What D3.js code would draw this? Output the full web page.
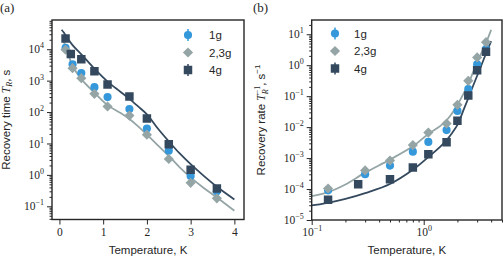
<!DOCTYPE html>
<html>
<head>
<meta charset="utf-8">
<script src="https://cdn.jsdelivr.net/npm/d3@7"></script>
<style>
	body { margin: 0; background: #fff; }
	svg { display: block; }
</style>
</head>
<body>
<svg id="chart" width="503" height="258"></svg>
<script>
// measured temperatures (K)
var temps = [0.14, 0.3, 0.5, 0.8, 1.1, 1.6, 2.0, 2.5, 3.0, 3.6];
var temps4g = [0.14, 0.26, 0.5, 0.8, 1.1, 1.6, 2.0, 2.5, 3.0, 3.6];

// recovery time T_R (s)
var tr1g = [1.1e4, 3.3e3, 1.75e3, 620, 300, 125, 30, 5.9, 0.93, 0.3];
var tr23g = [9.6e3, 2.5e3, 1.2e3, 380, 150, 77, 19, 3.2, 0.56, 0.18];
var tr4g = [2.2e4, 7.0e3, 4.8e3, 2.0e3, 750, 310, 62, 9.5, 1.45, 0.37];

// fit curves
var fitTempsDark = [0.05, 0.1, 0.15, 0.2, 0.3, 0.5, 0.8, 1.1, 1.4, 1.6, 1.8, 2.0, 2.25, 2.5, 2.75, 3.0, 3.3, 3.6, 4.0];
var fitDark = [4.17e4, 3.39e4, 2.63e4, 2.09e4, 1.35e4, 6.9e3, 2.4e3, 933, 437, 263, 151, 85, 30, 11.7, 4.8, 2.19, 0.93, 0.42, 0.166];
var fitTempsGray = [0.1, 0.14, 0.2, 0.3, 0.5, 0.8, 1.1, 1.4, 1.6, 1.8, 2.0, 2.25, 2.5, 2.75, 3.0, 3.3, 3.6, 4.0];
var fitGray = [1.7e4, 1.26e4, 7.1e3, 2.95e3, 1.12e3, 417, 166, 93, 60, 35, 19, 8.7, 4.0, 1.74, 0.83, 0.38, 0.19, 0.072];

var labels = ['1g', '2,3g', '4g'];
var colors = ['#3498db', '#95a5a6', '#34495e'];
var shapes = ['circle', 'diamond', 'square'];

var series = [
	{ name: labels[0], t: temps, v: tr1g, color: colors[0], shape: shapes[0], err: true },
	{ name: labels[1], t: temps, v: tr23g, color: colors[1], shape: shapes[1], err: false },
	{ name: labels[2], t: temps4g, v: tr4g, color: colors[2], shape: shapes[2], err: true }
];
var fits = [
	{ t: fitTempsGray, v: fitGray, color: '#95a5a6' },
	{ t: fitTempsDark, v: fitDark, color: '#34495e' }
];

var ink = '#262626';
var serif = '"Liberation Serif", "DejaVu Serif", serif';
var sans = '"Liberation Sans", "DejaVu Sans", sans-serif';

var svg = d3.select('#chart');

function symbolPath(shape) {
	if (shape === 'circle') return d3.symbol(d3.symbolCircle, 52)();
	if (shape === 'square') return d3.symbol(d3.symbolSquare, 72)();
	return d3.symbol(d3.symbolSquare, 52)();
}

function powLabel(sel) {
	sel.each(function(d) {
		var e = Math.round(Math.log10(d));
		var t = d3.select(this).text('').attr('font-family', serif);
		t.append('tspan').text('10');
		t.append('tspan').attr('dy', -5).attr('font-size', 8).text(String(e).replace('-', '\u2212'));
	});
}

function minorTicks(domain) {
	var out = [];
	var lo = Math.floor(Math.log10(domain[0])), hi = Math.ceil(Math.log10(domain[1]));
	for (var k = lo; k <= hi; k++) {
		for (var m = 2; m <= 9; m++) {
			var v = m * Math.pow(10, k);
			if (v >= domain[0] && v <= domain[1]) out.push(v);
		}
	}
	return out;
}

function majorTicks(domain) {
	var out = [];
	for (var k = Math.ceil(Math.log10(domain[0]) - 1e-9); k <= Math.floor(Math.log10(domain[1]) + 1e-9); k++) out.push(Math.pow(10, k));
	return out;
}

function drawPanel(p) {
	var g = svg.append('g');
	var id = 'clip' + p.key;
	svg.append('clipPath').attr('id', id).append('rect')
		.attr('x', p.left).attr('y', p.top)
		.attr('width', p.right - p.left).attr('height', p.bottom - p.top);

	var x = p.x, y = p.y;

	// x axis
	var xa = g.append('g').attr('transform', 'translate(0,' + p.bottom + ')');
	if (p.logX) {
		xa.call(d3.axisBottom(x).tickValues(majorTicks(x.domain())).tickSize(5).tickSizeOuter(0));
		xa.selectAll('text').call(powLabel);
		g.append('g').attr('transform', 'translate(0,' + p.bottom + ')')
			.call(d3.axisBottom(x).tickValues(minorTicks(x.domain())).tickSize(2.5).tickFormat('').tickSizeOuter(0))
			.call(function(a) { a.select('.domain').remove(); });
	} else {
		xa.call(d3.axisBottom(x).tickValues([0, 1, 2, 3, 4]).tickFormat(d3.format('d')).tickSize(5).tickSizeOuter(0));
		xa.selectAll('text').attr('font-family', serif);
	}
	// y axis
	var ya = g.append('g').attr('transform', 'translate(' + p.left + ',0)');
	ya.call(d3.axisLeft(y).tickValues(majorTicks(y.domain())).tickSize(5).tickSizeOuter(0));
	ya.selectAll('text').call(powLabel);
	g.append('g').attr('transform', 'translate(' + p.left + ',0)')
		.call(d3.axisLeft(y).tickValues(minorTicks(y.domain())).tickSize(2.5).tickFormat('').tickSizeOuter(0))
		.call(function(a) { a.select('.domain').remove(); });

	g.selectAll('.tick line').attr('stroke', ink).attr('stroke-width', 1);
	g.selectAll('.domain').remove();
	g.selectAll('.tick text').attr('fill', ink).attr('font-size', 11.5);

	// fit lines
	var line = d3.line()
		.x(function(d) { return x(d[0]); })
		.y(function(d) { return y(p.val(d[1])); })
		.curve(d3.curveCatmullRom);
	var lines = g.append('g').attr('clip-path', 'url(#' + id + ')');
	fits.forEach(function(f) {
		lines.append('path')
			.datum(d3.zip(f.t, f.v))
			.attr('d', line)
			.attr('fill', 'none')
			.attr('stroke', f.color)
			.attr('stroke-width', 1.8);
	});

	// markers
	var marks = g.append('g').attr('clip-path', 'url(#' + id + ')');
	series.forEach(function(s) {
		marks.append('g').selectAll('path')
			.data(d3.zip(s.t, s.v))
			.join('path')
				.attr('d', symbolPath(s.shape))
				.attr('transform', function(d) {
					return 'translate(' + x(d[0]) + ',' + y(p.val(d[1])) + ')' + (s.shape === 'diamond' ? ' rotate(45)' : '');
				})
				.attr('fill', s.color);
	});

	// frame
	g.append('rect')
		.attr('x', p.left).attr('y', p.top)
		.attr('width', p.right - p.left).attr('height', p.bottom - p.top)
		.attr('fill', 'none').attr('stroke', ink).attr('stroke-width', 1.4);

	// legend
	var leg = g.append('g');
	series.forEach(function(s, i) {
		var ly = p.legY + i * 17.5;
		if (s.err) {
			leg.append('line').attr('x1', p.legX).attr('x2', p.legX)
				.attr('y1', ly - 6).attr('y2', ly + 6)
				.attr('stroke', s.color).attr('stroke-width', 1.5);
		}
		leg.append('path').attr('d', symbolPath(s.shape))
			.attr('transform', 'translate(' + p.legX + ',' + ly + ')' + (s.shape === 'diamond' ? ' rotate(45)' : ''))
			.attr('fill', s.color);
		leg.append('text').attr('x', p.legX + p.legGap).attr('y', ly + 4)
			.attr('font-family', sans).attr('font-size', 11.5).attr('fill', ink)
			.text(s.name);
	});

	// axis labels
	g.append('text')
		.attr('x', (p.left + p.right) / 2).attr('y', 254)
		.attr('text-anchor', 'middle')
		.attr('font-family', sans).attr('font-size', 11.5).attr('fill', ink)
		.text('Temperature, K');

	var yl = g.append('text')
		.attr('transform', 'translate(' + p.yLabelX + ',' + ((p.top + p.bottom) / 2) + ') rotate(-90)')
		.attr('text-anchor', 'middle')
		.attr('font-family', sans).attr('font-size', 11.5).attr('fill', ink);
	p.yLabel(yl);

	g.append('text').attr('x', p.tagX).attr('y', 12)
		.attr('font-family', serif).attr('font-size', 13).attr('fill', ink)
		.text(p.tag);
}

// panel (a): recovery time vs temperature
drawPanel({
	key: 'a', tag: '(a)', tagX: 0,
	left: 52, right: 244, top: 20, bottom: 219.5,
	x: d3.scaleLinear().domain([-0.17, 4.22]).range([52, 244]),
	y: d3.scaleLog().domain([Math.pow(10, -1.42), Math.pow(10, 4.93)]).range([219.5, 20]),
	logX: false,
	val: function(v) { return v; },
	legX: 188, legY: 35, legGap: 21,
	yLabelX: 10,
	yLabel: function(t) {
		t.append('tspan').text('Recovery time ');
		t.append('tspan').attr('font-family', serif).attr('font-style', 'italic').text('T');
		t.append('tspan').attr('font-family', serif).attr('font-style', 'italic').attr('font-size', 8).attr('dy', 2).text('R');
		t.append('tspan').attr('dy', -2).text(', s');
	}
});

// panel (b): recovery rate vs temperature
drawPanel({
	key: 'b', tag: '(b)', tagX: 253,
	left: 311.7, right: 502, top: 20, bottom: 220,
	x: d3.scaleLog().domain([0.1, 5]).range([311.7, 502]),
	y: d3.scaleLog().domain([1e-5, Math.pow(10, 1.46)]).range([220, 20]),
	logX: true,
	val: function(v) { return 1 / v; },
	legX: 335, legY: 33.5, legGap: 19,
	yLabelX: 265,
	yLabel: function(t) {
		t.append('tspan').text('Recovery rate ');
		t.append('tspan').attr('font-family', serif).attr('font-style', 'italic').text('T');
		t.append('tspan').attr('font-family', serif).attr('font-style', 'italic').attr('font-size', 8).attr('dy', 2.5).text('R');
		t.append('tspan').attr('font-family', serif).attr('font-size', 8).attr('dx', -5).attr('dy', -8).text('\u22121');
		t.append('tspan').attr('dy', 5.5).text(', s');
		t.append('tspan').attr('font-size', 8).attr('dy', -5).text('\u22121');
	}
});
</script>
</body>
</html>
